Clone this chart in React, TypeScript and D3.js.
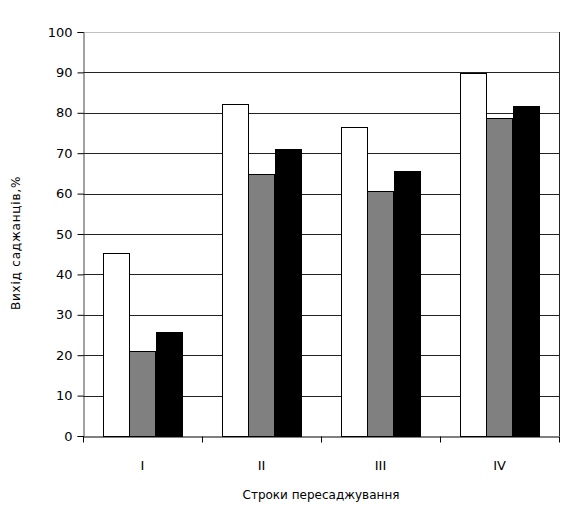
import React, { useEffect, useRef } from 'react';
import * as d3 from 'd3';

const categories = ['I', 'II', 'III', 'IV'];
const seriesA = [45.2, 82.1, 76.4, 89.8];
const seriesB = [21.0, 64.8, 60.6, 78.6];
const seriesC = [25.7, 71.0, 65.6, 81.7];
const yTicks = [0, 10, 20, 30, 40, 50, 60, 70, 80, 90, 100];

const fills = ['#ffffff', '#808080', '#000000'];
const font = '"DejaVu Sans", Verdana, sans-serif';

export default function App() {
  const ref = useRef<SVGSVGElement>(null);

  useEffect(() => {
    const svg = d3.select(ref.current);
    svg.selectAll('*').remove();
    const margin = { left: 83, right: 16, top: 32, bottom: 85 };
    const width = 575, height = 521;

    const x = d3.scaleBand().domain(categories).range([margin.left, width - margin.right]).padding(0);
    const bw = x.bandwidth();
    // bars take 3 of 4.5 bar widths (gap 150%)
    const groupW = bw * 3 / 4.5;
    const x1 = d3.scaleBand().domain(['a', 'b', 'c']).range([(bw - groupW) / 2, (bw + groupW) / 2]).padding(0);
    const y = d3.scaleLinear().domain([0, 100]).range([height - margin.bottom, margin.top]);

    const g = svg.append('g').attr('shape-rendering', 'crispEdges');

    // gridlines
    g.selectAll('line.grid').data(yTicks.filter(t => t > 0)).enter().append('line')
      .attr('x1', margin.left).attr('x2', width - margin.right)
      .attr('y1', d => Math.round(y(d)) + 0.5).attr('y2', d => Math.round(y(d)) + 0.5)
      .attr('stroke', d => d === 100 ? '#c0c0c0' : '#222');

    // right border
    g.append('line')
      .attr('x1', width - margin.right + 0.5).attr('x2', width - margin.right + 0.5)
      .attr('y1', margin.top).attr('y2', y(0))
      .attr('stroke', '#222');

    // bars
    const series = [seriesA, seriesB, seriesC];
    const keys = ['a', 'b', 'c'];
    series.forEach((vals, si) => {
      g.selectAll(`rect.s${si}`).data(vals).enter().append('rect')
        .attr('x', (d, i) => Math.round(x(categories[i])! + x1(keys[si])!) + 0.5)
        .attr('width', Math.round(x1.bandwidth()))
        .attr('y', d => Math.round(y(d)) + 0.5)
        .attr('height', d => Math.round(y(0)) - Math.round(y(d)))
        .attr('fill', fills[si])
        .attr('stroke', '#000');
    });

    // y axis
    const yAxis = svg.append('g')
      .attr('transform', `translate(${margin.left + 0.5},0)`)
      .call(d3.axisLeft(y).tickValues(yTicks).tickSize(6).tickPadding(5).tickFormat(d3.format('d')));
    yAxis.select('.domain').attr('stroke', '#444');
    yAxis.selectAll('line').attr('stroke', '#000');
    yAxis.selectAll('text').attr('font-family', font).attr('font-size', 13).attr('fill', '#000');

    // x axis
    const xAxis = svg.append('g')
      .attr('transform', `translate(0,${Math.round(y(0)) + 0.5})`)
      .call(d3.axisBottom(x).tickSize(0).tickPadding(24));
    xAxis.select('.domain').attr('stroke', '#000');
    xAxis.selectAll('text').attr('font-family', font).attr('font-size', 13).attr('fill', '#000');
    const bounds = categories.map(c => x(c)!).concat([width - margin.right]);
    xAxis.selectAll('line.tk').data(bounds).enter().append('line')
      .attr('x1', d => Math.round(d) + 0.5).attr('x2', d => Math.round(d) + 0.5)
      .attr('y1', 0).attr('y2', 6).attr('stroke', '#000');

    // titles
    svg.append('text')
      .attr('x', (margin.left + width - margin.right) / 2).attr('y', 499)
      .attr('text-anchor', 'middle').attr('font-family', font).attr('font-size', 12)
      .text('Строки пересаджування');
    svg.append('text')
      .attr('transform', `translate(20,243) rotate(-90)`)
      .attr('text-anchor', 'middle').attr('font-family', font).attr('font-size', 12)
      .attr('letter-spacing', 0.8)
      .text('Вихід саджанців,%');
  }, []);

  return <svg ref={ref} width={575} height={521} style={{ position: 'absolute', left: 0, top: 0 }} />;
}
